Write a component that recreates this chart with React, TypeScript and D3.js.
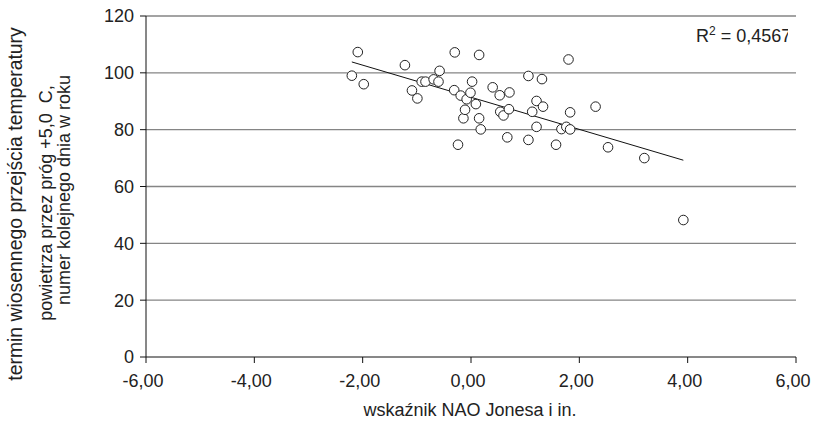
import React from "react";
import * as d3 from "d3";

// NAO index (Jones et al.) vs. day of year of spring +5 °C crossing
const naoIndex = [
  -2.2, -2.09, -1.98, -1.22, -1.09, -0.99, -0.91, -0.84, -0.69, -0.6, -0.58, -0.3,
  -0.31, -0.24, -0.19, -0.14, -0.11, -0.08, -0.01, 0.02, 0.09, 0.15, 0.15, 0.18,
  0.4, 0.53, 0.54, 0.6, 0.7, 0.71, 0.67, 1.06, 1.06, 1.13, 1.21, 1.21,
  1.31, 1.33, 1.57, 1.67, 1.76, 1.8, 1.83, 1.83, 2.3, 2.53, 3.2, 3.92,
];
const springDay = [
  99, 107.3, 96, 102.7, 93.8, 91, 96.9, 96.9, 97.7, 96.9, 100.7, 107.2,
  93.9, 74.7, 92, 84, 87, 90.7, 93, 96.9, 89, 106.3, 84, 80.1,
  94.9, 92.1, 86.3, 85, 87.2, 93.1, 77.3, 98.9, 76.4, 86.3, 90.1, 81,
  97.8, 88.1, 74.7, 80.2, 81, 104.7, 86.1, 80.1, 88.1, 73.8, 70, 48.2,
];

// Linear trend
const trendSlope = -5.65;
const trendIntercept = 91.4;
const rSquaredLabel = "0,4567";

const xTicks = [-6, -4, -2, 0, 2, 4, 6];
const yTicks = [0, 20, 40, 60, 80, 100, 120];

const yTitleLines = [
  "termin wiosennego przejścia temperatury",
  "powietrza przez próg +5,0  C,",
  "numer kolejnego dnia w roku",
];
const xTitle = "wskaźnik NAO Jonesa i in.";

const W = 818;
const H = 430;
const FONT = "'Liberation Sans', Arial, sans-serif";

export default function App() {
  const x = d3.scaleLinear().domain([-6, 6]).range([146, 796]);
  const y = d3.scaleLinear().domain([0, 120]).range([357, 16]);
  const fmt = (v: number) => v.toFixed(2).replace(".", ",");

  const points = naoIndex.map((v, i) => ({ x: v, y: springDay[i] }));
  const [xMin, xMax] = d3.extent(naoIndex) as [number, number];
  const trend = d3
    .line<number>()
    .x((v) => x(v))
    .y((v) => y(trendSlope * v + trendIntercept))([xMin, xMax]);

  const lineX = [15, 46, 64];
  const lineCy = [204, 203, 190];
  const lineSize = [19.4, 18, 18];

  return (
    <svg
      width={W}
      height={H}
      style={{ position: "absolute", left: 0, top: 0, background: "#fff" }}
      fontFamily={FONT}
    >
      <defs>
        <clipPath id="r2clip">
          <rect x={680} y={15} width={108} height={40} />
        </clipPath>
      </defs>

      {/* horizontal gridlines */}
      {yTicks
        .filter((t) => t > 0)
        .map((t) => (
          <line
            key={"g" + t}
            x1={x(-6)}
            x2={x(6)}
            y1={y(t)}
            y2={y(t)}
            stroke="#858585"
            strokeWidth={1.4}
          />
        ))}

      {/* axes */}
      <line x1={x(-6)} x2={x(-6)} y1={y(0)} y2={y(120)} stroke="#111" strokeWidth={1} />
      <line x1={x(-6)} x2={x(6)} y1={y(0)} y2={y(0)} stroke="#111" strokeWidth={1} />
      {yTicks.map((t) => (
        <g key={"y" + t}>
          <line x1={x(-6) - 6} x2={x(-6)} y1={y(t)} y2={y(t)} stroke="#111" />
          <text
            x={x(-6) - 12}
            y={y(t)}
            dy="0.36em"
            textAnchor="end"
            fontSize={18}
            fill="#222"
          >
            {t}
          </text>
        </g>
      ))}
      {xTicks.map((t) => (
        <g key={"x" + t}>
          <line x1={x(t)} x2={x(t)} y1={y(0)} y2={y(0) + 6} stroke="#111" />
          <text x={x(t) - 3} y={387} textAnchor="middle" fontSize={18} fill="#222">
            {fmt(t)}
          </text>
        </g>
      ))}

      {/* trend line */}
      <path d={trend ?? ""} fill="none" stroke="#111" strokeWidth={1} />

      {/* observations */}
      {points.map((p, i) => (
        <circle
          key={i}
          cx={x(p.x)}
          cy={y(p.y)}
          r={4.8}
          fill="#fff"
          stroke="#222"
          strokeWidth={1}
        />
      ))}

      {/* R² */}
      <text x={696} y={42} fontSize={18} fill="#222" clipPath="url(#r2clip)">
        R<tspan dy={-7} fontSize={12}>2</tspan>
        <tspan dy={7}>{" = " + rSquaredLabel}</tspan>
      </text>

      {/* axis titles */}
      <text x={470} y={416} textAnchor="middle" fontSize={18} fill="#222">
        {xTitle}
      </text>
      {yTitleLines.map((s, i) => (
        <text
          key={i}
          transform={`translate(${lineX[i]},${lineCy[i]}) rotate(-90)`}
          textAnchor="middle"
          dy="0.35em"
          fontSize={lineSize[i]}
          fill="#222"
          style={{ whiteSpace: "pre" }}
        >
          {s}
        </text>
      ))}
    </svg>
  );
}
